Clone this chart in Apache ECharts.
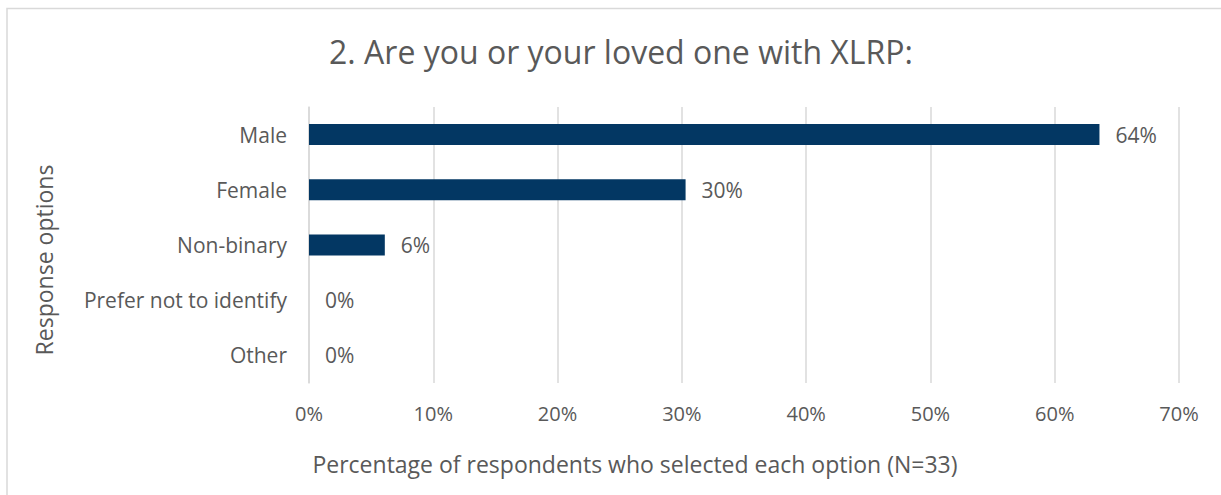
<!DOCTYPE html>
<html>
<head>
<meta charset="utf-8">
<script src="https://cdn.jsdelivr.net/npm/echarts@6/dist/echarts.min.js"></script>
<style>
  html, body { margin: 0; padding: 0; background: #ffffff; }
  #chart { width: 1221px; height: 495px; }
</style>
</head>
<body>
<div id="chart"></div>
<script>
// Survey question 2: share of respondents per option (N=33)
const chartTitle = '2. Are you or your loved one with XLRP:';
const categories = ['Male', 'Female', 'Non-binary', 'Prefer not to identify', 'Other'];
const percentValues = [63.6, 30.3, 6.1, 0, 0];
const xTickValues = [0, 10, 20, 30, 40, 50, 60, 70];
const xAxisTitle = 'Percentage of respondents who selected each option (N=33)';
const yAxisTitle = 'Response options';

const textColor = '#595959';
const gridColor = '#d9d9d9';
const barColor = '#033763';
const fontFamily = '"Open Sans", "Noto Sans", sans-serif';

const chart = echarts.init(document.getElementById('chart'), null, { renderer: 'svg' });

chart.setOption({
  backgroundColor: '#ffffff',
  animation: false,
  title: {
    text: chartTitle,
    left: 616,
    top: 30,
    textAlign: 'center',
    textStyle: { color: textColor, fontFamily: fontFamily, fontSize: 32, fontWeight: 'normal' }
  },
  grid: { left: 309, right: 42, top: 107, bottom: 112, containLabel: false },
  xAxis: {
    type: 'value',
    min: xTickValues[0],
    max: xTickValues[xTickValues.length - 1],
    interval: xTickValues[1] - xTickValues[0],
    axisLine: { show: false },
    axisTick: { show: false },
    splitLine: { show: true, lineStyle: { color: gridColor, width: 1.5 } },
    axisLabel: {
      margin: 20,
      color: textColor,
      fontFamily: fontFamily,
      fontSize: 20,
      formatter: v => v + '%'
    }
  },
  yAxis: {
    type: 'category',
    data: categories,
    inverse: true,
    axisLine: { show: true, lineStyle: { color: gridColor, width: 1.5 } },
    axisTick: { show: false },
    axisLabel: { margin: 22, color: textColor, fontFamily: fontFamily, fontSize: 21 }
  },
  series: [{
    type: 'bar',
    data: percentValues,
    barWidth: 21,
    itemStyle: { color: barColor },
    label: {
      show: true,
      position: 'right',
      distance: 16,
      color: textColor,
      fontFamily: fontFamily,
      fontSize: 21,
      formatter: p => Math.round(p.value) + '%'
    }
  }],
  graphic: [
    {
      type: 'rect',
      silent: true,
      shape: { x: 7, y: 8.5, width: 1400, height: 700 },
      style: { fill: 'none', stroke: gridColor, lineWidth: 1.5 }
    },
    {
      type: 'text',
      style: {
        text: xAxisTitle,
        x: 635, y: 464,
        textAlign: 'center', textVerticalAlign: 'middle',
        fill: textColor, font: '23px ' + fontFamily
      }
    },
    {
      type: 'text',
      x: 44, y: 260,
      rotation: Math.PI / 2,
      style: {
        text: yAxisTitle,
        textAlign: 'center', textVerticalAlign: 'middle',
        fill: textColor, font: '23px ' + fontFamily
      }
    }
  ]
});
</script>
</body>
</html>
